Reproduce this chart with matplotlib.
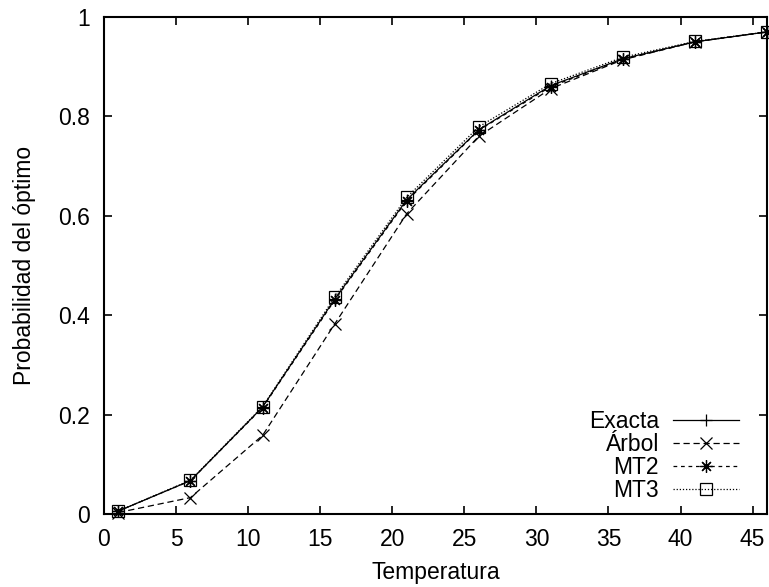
import matplotlib.pyplot as plt

plt.rcParams['font.family'] = ['Liberation Sans', 'DejaVu Sans']

temperatura = [1, 6, 11, 16, 21, 26, 31, 36, 41, 46]
exacta = [0.006, 0.067, 0.215, 0.432, 0.632, 0.773, 0.862, 0.916, 0.950, 0.970]
arbol = [0.003, 0.033, 0.158, 0.382, 0.604, 0.760, 0.856, 0.914, 0.950, 0.970]
mt2 = [0.006, 0.067, 0.214, 0.430, 0.630, 0.772, 0.860, 0.915, 0.950, 0.970]
mt3 = [0.006, 0.068, 0.216, 0.436, 0.637, 0.779, 0.866, 0.919, 0.951, 0.970]

fs = 16.5

fig = plt.figure(figsize=(7.69, 5.87), dpi=100)
ax = fig.add_axes([104 / 769, 1 - 514 / 587, 663 / 769, 497 / 587])

ax.plot(temperatura, exacta, color='black', lw=0.9, ls='-', marker='+', ms=9,
        mew=0.9, label='Exacta', clip_on=False)
ax.plot(temperatura, arbol, color='black', lw=0.9, ls=(0, (5, 3)), marker='x', ms=8,
        mew=0.9, label='Árbol', clip_on=False)
ax.plot(temperatura, mt2, color='black', lw=0.9, ls=(0, (3, 3)), marker=(8, 2, 0), ms=9,
        mew=0.9, label='MT2', clip_on=False)
ax.plot(temperatura, mt3, color='black', lw=0.9, ls=(0, (1, 1.5)), marker='s', ms=8,
        mew=0.9, mfc='none', label='MT3', clip_on=False)

ax.set_xlim(0, 46)
ax.set_ylim(0, 1)
ax.set_xticks(range(0, 46, 5))
ax.set_yticks([0, 0.2, 0.4, 0.6, 0.8, 1])
ax.set_yticklabels(['0', '0.2', '0.4', '0.6', '0.8', '1'])
ax.tick_params(direction='in', top=True, right=True, length=6, width=1.2,
               labelsize=fs, pad=10)
for s in ax.spines.values():
    s.set_linewidth(1.5)

ax.set_xlabel('Temperatura', fontsize=fs, labelpad=7)
ax.set_ylabel('Probabilidad del óptimo', fontsize=fs, labelpad=16)

leg = ax.legend(loc='lower right', frameon=False, markerfirst=False, fontsize=fs,
                handlelength=2.9, handletextpad=0.6, labelspacing=0.0,
                borderaxespad=0, bbox_to_anchor=(0.972, 0.006))
for t in leg.get_texts():
    t.set_ha('right')

fig.savefig('out.png', dpi=100)
